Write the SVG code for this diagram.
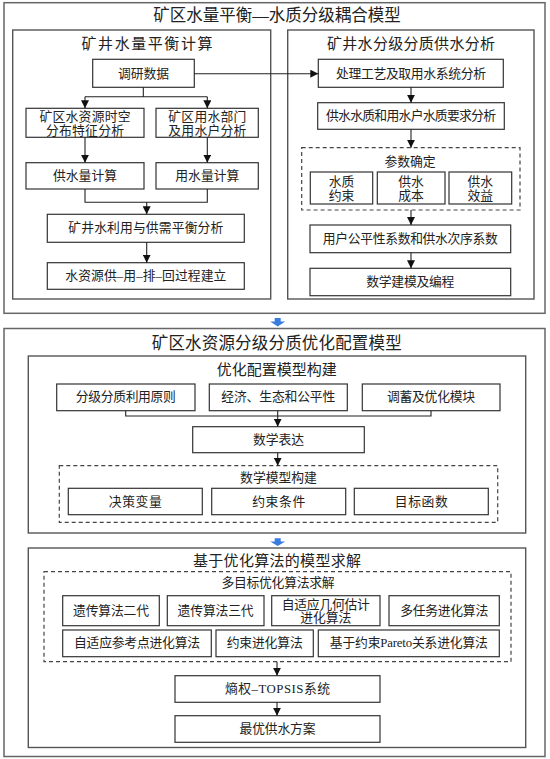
<svg xmlns="http://www.w3.org/2000/svg" width="550" height="759" viewBox="0 0 550 759">
<defs>
<marker id="ah" viewBox="0 0 10 10" refX="10" refY="5" markerWidth="8" markerHeight="8" markerUnits="userSpaceOnUse" orient="auto">
<path d="M0,0 L10,5 L0,10 z" fill="#111"/>
</marker>
<style>
.outer{fill:#fff;stroke:#666;stroke-width:1.5}
.inner{fill:#fff;stroke:#555;stroke-width:1.4}
.box{fill:#fff;stroke:#333;stroke-width:1.2}
.dash{fill:none;stroke:#444;stroke-width:1.2;stroke-dasharray:4,3}
text{font-family:"Liberation Serif","Noto Sans CJK SC",serif;fill:#222;text-anchor:middle;dominant-baseline:central}
.t1{font-size:16.5px}
.t2{font-size:15px}
.t3{font-size:12.8px}
.ln{fill:none;stroke:#222;stroke-width:1.1}
.arr{fill:none;stroke:#222;stroke-width:1.1;marker-end:url(#ah)}
.blue{fill:#3a7be0}
</style>
</defs>
<rect width="550" height="759" fill="#fff"/>

<g id="section1">
<rect class="outer" x="4" y="2.7" width="541" height="310.6"/>
<text class="t1" x="277" y="15.5">矿区水量平衡—水质分级耦合模型</text>
</g>
<g id="waterBalance">
<rect class="inner" x="12.7" y="30" width="258" height="269"/>
<text class="t2" x="147" y="43.5" textLength="131" lengthAdjust="spacing">矿井水量平衡计算</text>
</g>
<g id="qualityAnalysis">
<rect class="inner" x="287.7" y="30" width="246.3" height="269"/>
<text class="t2" x="411" y="43.5" textLength="168" lengthAdjust="spacing">矿井水分级分质供水分析</text>
</g>
<g id="n_survey"><rect class="box" x="92.7" y="59.3" width="101.6" height="28"/><text class="t3" x="143.5" y="73.5">调研数据</text></g>
<g id="n_spatial"><rect class="box" x="26" y="108.3" width="118" height="29"/><text class="t3" x="85" y="116.7" textLength="91" lengthAdjust="spacing">矿区水资源时空</text><text class="t3" x="85" y="130.5" textLength="78" lengthAdjust="spacing">分布特征分析</text></g>
<g id="n_dept"><rect class="box" x="156" y="108.3" width="102.3" height="29"/><text class="t3" x="207.3" y="116.7" textLength="78" lengthAdjust="spacing">矿区用水部门</text><text class="t3" x="207.3" y="130.5" textLength="78" lengthAdjust="spacing">及用水户分析</text></g>
<g id="n_supply"><rect class="box" x="26" y="162.7" width="118" height="26.3"/><text class="t3" x="85" y="176" textLength="64" lengthAdjust="spacing">供水量计算</text></g>
<g id="n_use"><rect class="box" x="156" y="162.7" width="102.3" height="26.3"/><text class="t3" x="207.3" y="176" textLength="64" lengthAdjust="spacing">用水量计算</text></g>
<g id="n_balance"><rect class="box" x="47.3" y="214.3" width="197" height="28"/><text class="t3" x="145.8" y="228.3" textLength="155" lengthAdjust="spacing">矿井水利用与供需平衡分析</text></g>
<g id="n_process"><rect class="box" x="47.3" y="262.7" width="197" height="26.6"/><text class="t3" x="145.8" y="276" textLength="161" lengthAdjust="spacing">水资源供–用–排–回过程建立</text></g>

<g id="n_treat"><rect class="box" x="318.3" y="59.3" width="185" height="28"/><text class="t3" x="411" y="73.5" textLength="150" lengthAdjust="spacing">处理工艺及取用水系统分析</text></g>
<g id="n_qual"><rect class="box" x="317.7" y="102.7" width="186.6" height="26.6"/><text class="t3" x="411" y="116" textLength="170" lengthAdjust="spacing">供水水质和用水户水质要求分析</text></g>
<g id="g_param"><rect class="dash" x="301.7" y="147.7" width="218.3" height="62.3"/><text class="t3" x="410" y="161.7">参数确定</text></g>
<g id="n_q1"><rect class="box" x="310.3" y="172" width="62.4" height="32"/><text class="t3" x="341.5" y="181.7">水质</text><text class="t3" x="341.5" y="195.7">约束</text></g>
<g id="n_q2"><rect class="box" x="377.3" y="172" width="67.7" height="32"/><text class="t3" x="411" y="181.7">供水</text><text class="t3" x="411" y="195.7">成本</text></g>
<g id="n_q3"><rect class="box" x="449" y="172" width="62.7" height="32"/><text class="t3" x="480.3" y="181.7">供水</text><text class="t3" x="480.3" y="195.7">效益</text></g>
<g id="n_coef"><rect class="box" x="310" y="225" width="200.7" height="27.7"/><text class="t3" x="410.3" y="238.8" textLength="175" lengthAdjust="spacing">用户公平性系数和供水次序系数</text></g>
<g id="n_model"><rect class="box" x="310" y="268.3" width="200.7" height="27.4"/><text class="t3" x="410.3" y="282" textLength="88" lengthAdjust="spacing">数学建模及编程</text></g>

<g id="section2">
<rect class="outer" x="4" y="328.5" width="541" height="428"/>
<text class="t1" x="276.7" y="343.3" textLength="250" lengthAdjust="spacing">矿区水资源分级分质优化配置模型</text>
</g>
<g id="optBuild">
<rect class="inner" x="28.3" y="356" width="497.4" height="177"/>
<text class="t2" x="276.7" y="370">优化配置模型构建</text>
</g>
<g id="n_p1"><rect class="box" x="56.7" y="384" width="138.3" height="26.7"/><text class="t3" x="125.8" y="397.3" textLength="100" lengthAdjust="spacing">分级分质利用原则</text></g>
<g id="n_p2"><rect class="box" x="209.3" y="384" width="138" height="26.7"/><text class="t3" x="278.3" y="397.3" textLength="114" lengthAdjust="spacing">经济、生态和公平性</text></g>
<g id="n_p3"><rect class="box" x="362.3" y="384" width="137.7" height="26.7"/><text class="t3" x="431" y="397.3" textLength="88" lengthAdjust="spacing">调蓄及优化模块</text></g>
<g id="n_expr"><rect class="box" x="192.7" y="426.7" width="171.6" height="26"/><text class="t3" x="278.5" y="439.7">数学表达</text></g>
<g id="g_math"><rect class="dash" x="59.3" y="465.7" width="438.4" height="56.6"/><text class="t3" x="278.5" y="478.3">数学模型构建</text></g>
<g id="n_m1"><rect class="box" x="68.3" y="488.3" width="134" height="26.4"/><text class="t3" x="135.3" y="501.5" textLength="53" lengthAdjust="spacing">决策变量</text></g>
<g id="n_m2"><rect class="box" x="211.7" y="488.3" width="134" height="26.4"/><text class="t3" x="278.7" y="501.5" textLength="53" lengthAdjust="spacing">约束条件</text></g>
<g id="n_m3"><rect class="box" x="354.3" y="488.3" width="134" height="26.4"/><text class="t3" x="421.3" y="501.5" textLength="53" lengthAdjust="spacing">目标函数</text></g>

<g id="solve">
<rect class="inner" x="28.3" y="548" width="497.4" height="199.5"/>
<text class="t2" x="277" y="560.5" textLength="168" lengthAdjust="spacing">基于优化算法的模型求解</text>
</g>
<g id="g_algo"><rect class="dash" x="44" y="571.7" width="467" height="90"/><text class="t3" x="278" y="583.3" textLength="113" lengthAdjust="spacing">多目标优化算法求解</text></g>
<g id="n_a1"><rect class="box" x="62.7" y="595.7" width="96.6" height="30"/><text class="t3" x="111" y="610.7" textLength="76" lengthAdjust="spacing">遗传算法二代</text></g>
<g id="n_a2"><rect class="box" x="167.3" y="595.7" width="96.7" height="30"/><text class="t3" x="215.6" y="610.7" textLength="76" lengthAdjust="spacing">遗传算法三代</text></g>
<g id="n_a3"><rect class="box" x="271.7" y="595.7" width="108.3" height="30"/><text class="t3" x="325.8" y="604.5" textLength="88" lengthAdjust="spacing">自适应几何估计</text><text class="t3" x="325.8" y="617.5">进化算法</text></g>
<g id="n_a4"><rect class="box" x="389" y="595.7" width="110.3" height="30"/><text class="t3" x="444.2" y="610.7" textLength="88" lengthAdjust="spacing">多任务进化算法</text></g>
<g id="n_a5"><rect class="box" x="62.7" y="630" width="148.6" height="26.7"/><text class="t3" x="137" y="643.3" textLength="126" lengthAdjust="spacing">自适应参考点进化算法</text></g>
<g id="n_a6"><rect class="box" x="216" y="630" width="97.3" height="26.7"/><text class="t3" x="264.7" y="643.3" textLength="76" lengthAdjust="spacing">约束进化算法</text></g>
<g id="n_a7"><rect class="box" x="318.3" y="630" width="181" height="26.7"/><text class="t3" x="408.8" y="643.3" textLength="158" lengthAdjust="spacing">基于约束Pareto关系进化算法</text></g>
<g id="n_topsis"><rect class="box" x="175" y="675.7" width="205" height="26.6"/><text class="t3" x="277.5" y="689" textLength="105" lengthAdjust="spacing">熵权–TOPSIS系统</text></g>
<g id="n_best"><rect class="box" x="175" y="715.7" width="205" height="26.6"/><text class="t3" x="277.5" y="729" textLength="76" lengthAdjust="spacing">最优供水方案</text></g>

<g id="connectors">
<path class="ln" d="M143.3,87.3 V96.7 M85,96.7 H207.3"/>
<path class="arr" d="M85,96.7 V108.3"/>
<path class="arr" d="M207.3,96.7 V108.3"/>
<path class="arr" d="M194.3,73.7 H318.3"/>
<path class="arr" d="M85,137.3 V162.7"/>
<path class="arr" d="M207.3,137.3 V162.7"/>
<path class="ln" d="M85,189 V202.3 H207.3 V189"/>
<path class="arr" d="M146.7,202.3 V214.3"/>
<path class="arr" d="M146.7,242.3 V262.7"/>
<path class="arr" d="M411,87.3 V102.7"/>
<path class="arr" d="M411,129.3 V147.7"/>
<path class="arr" d="M411,210 V225"/>
<path class="arr" d="M411,252.7 V268.3"/>
<path class="ln" d="M125.7,410.7 V416 H431 V410.7"/>
<path class="arr" d="M277.7,410.7 V426.7"/>
<path class="arr" d="M277.7,452.7 V465.7"/>
<path class="arr" d="M277,661.7 V675.7"/>
<path class="arr" d="M277,702.3 V715.7"/>
<path class="blue" d="M274.7,318 H280.7 V321.5 H285.2 L277.7,326.5 L270.2,321.5 H274.7 Z"/>
<path class="blue" d="M274.7,538.3 H280.7 V541.5 H285.2 L277.7,546 L270.2,541.5 H274.7 Z"/>
</g>
</svg>
